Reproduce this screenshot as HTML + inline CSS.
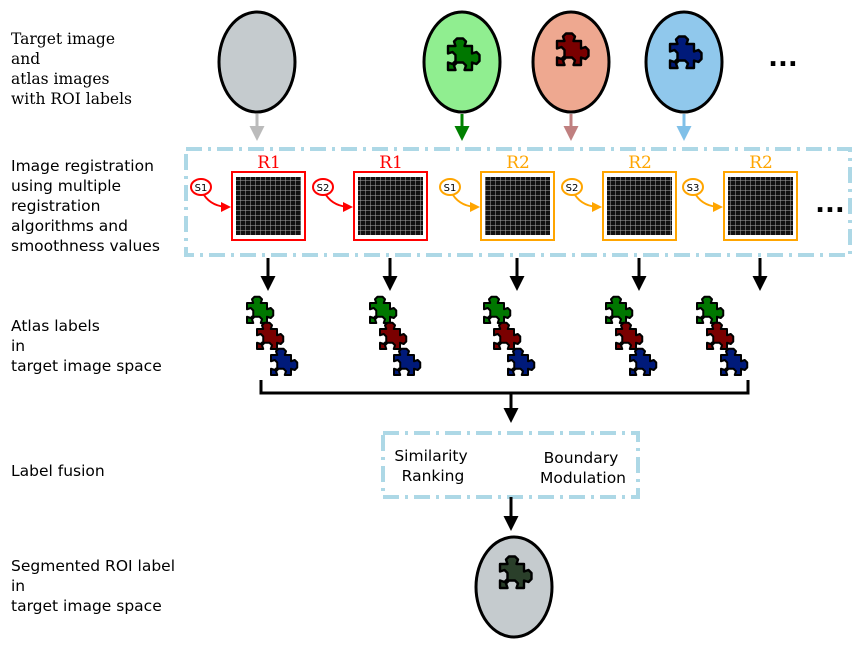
<!DOCTYPE html>
<html><head><meta charset="utf-8"><style>
body{margin:0;background:#fff;}
svg{display:block;}
.lbl{font-family:"DejaVu Sans","Liberation Sans",sans-serif;font-size:15.5px;fill:#000;}
.ser{font-family:"DejaVu Serif","Liberation Serif",serif;font-size:15.5px;fill:#000;}
</style></head><body>
<svg width="862" height="649" viewBox="0 0 862 649">
<defs>
<path id="pz" d="M-8,-8 H-3 L-4,-11 L-2,-13 H2 L4,-11 L3,-8 H8 V-3 L11,-4 L13,-2 V2 L11,4 L8,3 V8 H3 L4,5 L2,3 H-2 L-4,5 L-3,8 H-8 V3 L-5,4 L-3,2 V-2 L-5,-4 L-8,-3 Z" stroke="#000" stroke-width="1.6" stroke-linejoin="round"/>
<pattern id="grid" width="5" height="5" patternUnits="userSpaceOnUse"><rect width="5" height="5" fill="#111"/><path d="M0,0H5M0,0V5" stroke="#aaa" stroke-width="1"/></pattern>
<marker id="ah" viewBox="0 0 10 10" refX="8" refY="5" markerWidth="5" markerHeight="5" orient="auto"><path d="M0,0L10,5L0,10Z" fill="context-stroke"/></marker>
</defs>
<g>
<text class="ser" x="11" y="44"><tspan x="11">Target image</tspan><tspan x="11" dy="20">and</tspan><tspan x="11" dy="20">atlas images</tspan><tspan x="11" dy="20">with ROI labels</tspan></text>
<text class="lbl" x="11" y="171"><tspan x="11">Image registration</tspan><tspan x="11" dy="20">using multiple</tspan><tspan x="11" dy="20">registration</tspan><tspan x="11" dy="20">algorithms and</tspan><tspan x="11" dy="20">smoothness values</tspan></text>
<text class="lbl" x="11" y="331"><tspan x="11">Atlas labels</tspan><tspan x="11" dy="20">in</tspan><tspan x="11" dy="20">target image space</tspan></text>
<text class="lbl" x="11" y="476">Label fusion</text>
<text class="lbl" x="11" y="571"><tspan x="11">Segmented ROI label</tspan><tspan x="11" dy="20">in</tspan><tspan x="11" dy="20">target image space</tspan></text>
</g>
<g>
<ellipse cx="257" cy="62" rx="38" ry="50" fill="#c5cbce" stroke="#000" stroke-width="3"/>
<ellipse cx="462" cy="62" rx="38" ry="50" fill="#90ee90" stroke="#000" stroke-width="3"/>
<use href="#pz" transform="translate(460,58) scale(1.5)" fill="#007700"/>
<ellipse cx="571" cy="62" rx="38" ry="50" fill="#eea890" stroke="#000" stroke-width="3"/>
<use href="#pz" transform="translate(569,53) scale(1.5)" fill="#7a0000"/>
<ellipse cx="684" cy="62" rx="38" ry="50" fill="#90c8ec" stroke="#000" stroke-width="3"/>
<use href="#pz" transform="translate(682,56) scale(1.5)" fill="#001a7a"/>
<text x="783" y="66" font-family="DejaVu Sans" font-size="26" font-weight="bold" text-anchor="middle">...</text>
<line x1="257" y1="114" x2="257" y2="138" stroke="#bbb" stroke-width="3" marker-end="url(#ah)"/>
<line x1="462" y1="114" x2="462" y2="138" stroke="#008000" stroke-width="3" marker-end="url(#ah)"/>
<line x1="571" y1="114" x2="571" y2="138" stroke="#c08080" stroke-width="3" marker-end="url(#ah)"/>
<line x1="684" y1="114" x2="684" y2="138" stroke="#80c0e8" stroke-width="3" marker-end="url(#ah)"/>
</g>
<rect x="186" y="149" width="664" height="106" fill="none" stroke="#add8e6" stroke-width="4" stroke-dasharray="16,6,3,6"/>
<g font-family="DejaVu Serif" font-size="17" text-anchor="middle">
<g id="regs"></g>
</g>
<text x="830" y="212" font-family="DejaVu Sans" font-size="26" font-weight="bold" text-anchor="middle">...</text>
<g id="pieces"></g>
<path d="M261,380 V393 H748 V380" fill="none" stroke="#000" stroke-width="3"/>
<line x1="511" y1="393" x2="511" y2="420" stroke="#000" stroke-width="3" marker-end="url(#ah)"/>
<rect x="383" y="433" width="255" height="64" fill="none" stroke="#add8e6" stroke-width="4" stroke-dasharray="16,6,3,6"/>
<text class="lbl" text-anchor="middle"><tspan x="431" y="461">Similarity</tspan><tspan x="433" y="481">Ranking</tspan></text>
<text class="lbl" text-anchor="middle"><tspan x="581" y="463">Boundary</tspan><tspan x="583" y="483">Modulation</tspan></text>
<line x1="511" y1="497" x2="511" y2="528" stroke="#000" stroke-width="3" marker-end="url(#ah)"/>
<ellipse cx="514" cy="587" rx="38" ry="50" fill="#c5cbce" stroke="#000" stroke-width="3"/>
<use href="#pz" transform="translate(512,576) scale(1.5)" fill="#2a3f2a"/>
</svg>
<script>
const NS="http://www.w3.org/2000/svg";
const regX=[232,354,481,603,724];
const regLabel=["R1","R1","R2","R2","R2"];
const sLabel=["S1","S2","S1","S2","S3"];
const regs=document.getElementById('regs');
function mk(t,a,p){const e=document.createElementNS(NS,t);for(const k in a)e.setAttribute(k,a[k]);p.appendChild(e);return e;}
regX.forEach((x,i)=>{
  const c=regLabel[i]==="R1"?"#ff0000":"#ffa500";
  const g=mk('g',{},regs);
  
  
  mk('rect',{x:x,y:172,width:73,height:68,fill:'#fff',stroke:c,'stroke-width':2},g);
  mk('rect',{x:x+4,y:177,width:65,height:58,fill:'url(#grid)'},g);
  const t=mk('text',{x:x+37,y:168,fill:c},g);t.textContent=regLabel[i];
  mk('ellipse',{cx:x-31,cy:187,rx:10,ry:8,fill:'#fff',stroke:c,'stroke-width':2},g);
  const s=mk('text',{x:x-31,y:191,fill:'#000','font-size':10,'font-family':'DejaVu Sans'},g);s.textContent=sLabel[i];
  mk('path',{d:`M${x-28},195 Q${x-20},207 ${x-3},207`,fill:'none',stroke:c,'stroke-width':2,'marker-end':'url(#ah)'},g);
  mk('line',{x1:x+36,y1:258,x2:x+36,y2:288,stroke:'#000','stroke-width':3,'marker-end':'url(#ah)'},g);
});
const pieceX=[257,380,494,616,707];
const pc=mk('g',{},document.getElementById('pieces'));
pieceX.forEach(x=>{
  [[0,313,'#007700'],[10,339,'#7a0000'],[24,365,'#001a7a']].forEach(([dx,y,f])=>{
    const u=mk('use',{transform:`translate(${x+dx},${y}) scale(1.25)`,fill:f},pc);
    u.setAttribute('href','#pz');
    
    
  });
});
</script>
</body></html>
